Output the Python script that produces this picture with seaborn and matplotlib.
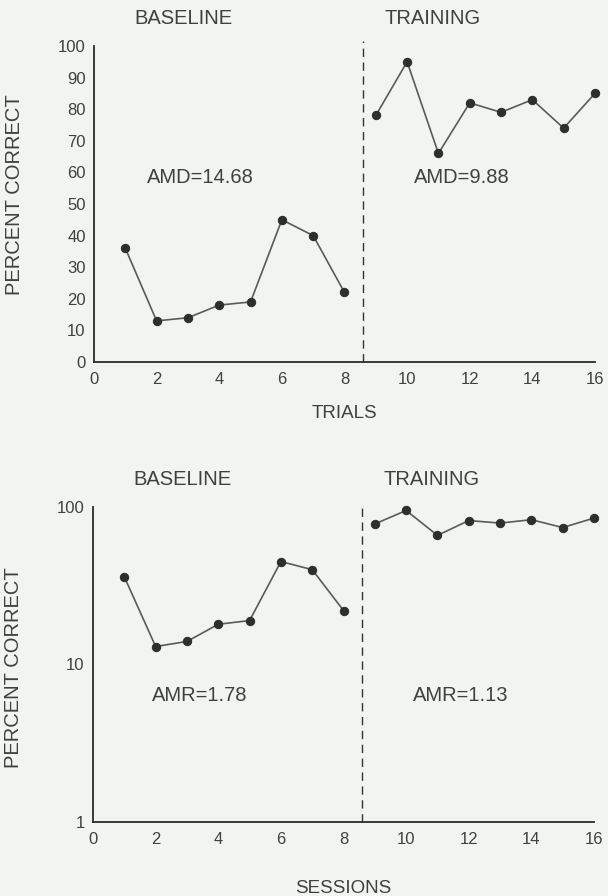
import matplotlib
matplotlib.use("Agg")
import matplotlib.pyplot as plt
import matplotlib.transforms as mtransforms
import numpy as np
import pandas as pd
import seaborn as sns

# Percent correct per trial/session for the two phases
baseline_x = [1, 2, 3, 4, 5, 6, 7, 8]
baseline_y = [36, 13, 14, 18, 19, 45, 40, 22]
training_x = [9, 10, 11, 12, 13, 14, 15, 16]
training_y = [78, 95, 66, 82, 79, 83, 74, 85]
phase_names = ["BASELINE", "TRAINING"]
amd_labels = ["AMD=14.68", "AMD=9.88"]
amr_labels = ["AMR=1.78", "AMR=1.13"]
phase_change = 8.6

x_ticks = [0, 2, 4, 6, 8, 10, 12, 14, 16]
lin_ticks = [0, 10, 20, 30, 40, 50, 60, 70, 80, 90, 100]
log_ticks = [1, 10, 100]

df = pd.DataFrame({
    "x": baseline_x + training_x,
    "pct": baseline_y + training_y,
    "phase": [phase_names[0]] * len(baseline_x) + [phase_names[1]] * len(training_x),
})

sns.set_theme(style="white")
bg = "#f2f4f1"
ink = "#404040"
plt.rcParams["font.family"] = ["Liberation Sans", "DejaVu Sans"]
plt.rcParams["text.color"] = ink
plt.rcParams["axes.labelcolor"] = ink
plt.rcParams["xtick.color"] = ink
plt.rcParams["ytick.color"] = ink

fig = plt.figure(figsize=(6.08, 8.96), dpi=100, facecolor=bg)
ax_top = fig.add_axes([0.1546, 0.596, 0.824, 0.3527])
ax_bot = fig.add_axes([0.1530, 0.0826, 0.824, 0.3516])


def draw_panel(ax, log_scale, notes, note_y, xlabel, xlabel_pad, ylabel_y):
    ax.set_facecolor(bg)
    for name in phase_names:
        sub = df[df["phase"] == name]
        sns.lineplot(data=sub, x="x", y="pct", ax=ax, color="#5a5a5a",
                     linewidth=1.2, marker="o", markersize=6,
                     markerfacecolor="#2e2e2e", markeredgecolor="#2e2e2e",
                     estimator=None, legend=False)
    for line in ax.get_lines():
        line.set_clip_on(False)
    if log_scale:
        ax.set_yscale("log")
        ax.set_ylim(1, 100)
        ax.set_yticks(log_ticks)
        ax.set_yticklabels([str(t) for t in log_ticks])
        ax.yaxis.set_minor_locator(matplotlib.ticker.NullLocator())
        ax.vlines(phase_change, 1, 104, colors="#333333", linestyles=(0, (6, 4)),
                  linewidth=1.0, clip_on=False)
    else:
        ax.set_ylim(0, 100)
        ax.set_yticks(lin_ticks)
        ax.vlines(phase_change, 0, 101.5, colors="#333333", linestyles=(0, (6, 4)),
                  linewidth=1.0, clip_on=False)
    ax.set_xlim(0, 16)
    ax.set_xticks(x_ticks)
    for s in ["top", "right"]:
        ax.spines[s].set_visible(False)
    for s in ["left", "bottom"]:
        ax.spines[s].set_color("#2a2a2a")
        ax.spines[s].set_linewidth(1.3)
    ax.tick_params(axis="both", direction="out", length=4, width=1,
                   labelsize=12, colors=ink, pad=3)
    ax.tick_params(axis="y", pad=2)
    ax.set_xlabel(xlabel, fontsize=13.5, labelpad=xlabel_pad)
    ax.set_ylabel("PERCENT CORRECT", fontsize=14.5, va="center")
    ax.yaxis.set_label_coords(-0.158, ylabel_y)

    trans = mtransforms.blended_transform_factory(ax.transData, ax.transAxes)
    for xc, name in zip([2.85, 10.8], phase_names):
        ax.text(xc, 1.088, name, transform=trans, ha="center", va="center",
                fontsize=14.5)
    for xc, note in zip([3.4, 11.75], notes):
        ax.text(xc, note_y, note, ha="center", va="center", fontsize=14.5)


draw_panel(ax_top, False, amd_labels, 58.5, "TRIALS", 13, 0.53)
draw_panel(ax_bot, True, amr_labels, 6.4, "SESSIONS", 24, 0.49)

fig.savefig("out.png", dpi=100, facecolor=bg)
